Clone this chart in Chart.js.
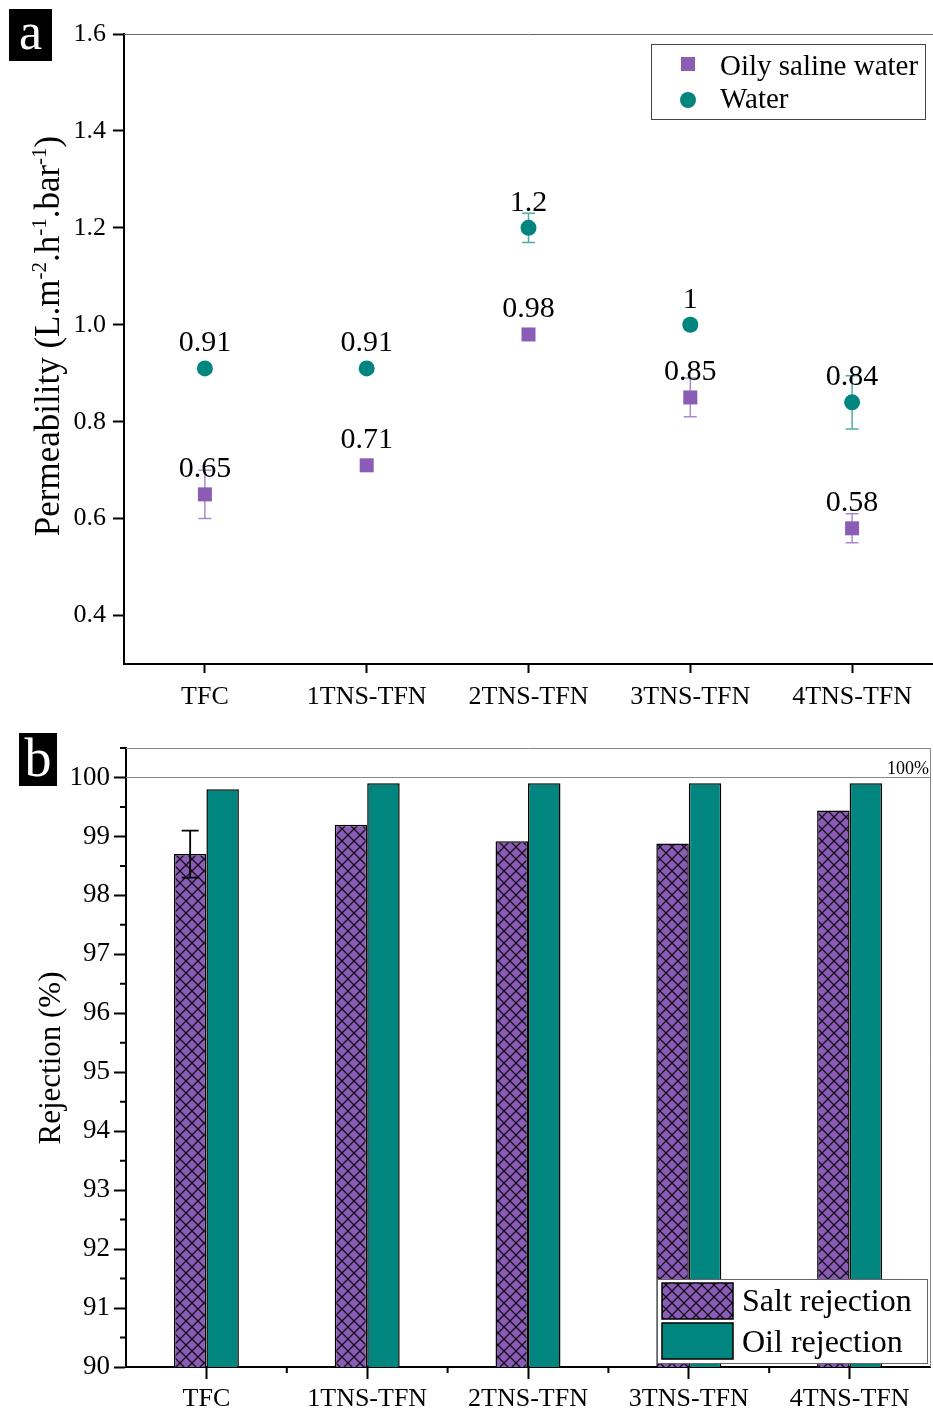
<!DOCTYPE html>
<html><head><meta charset="utf-8">
<script src="https://cdn.jsdelivr.net/npm/chart.js@4.4.1/dist/chart.umd.min.js"></script>
<style>
html,body{margin:0;padding:0;background:#fff;width:933px;height:1410px;overflow:hidden;}
#wa{position:absolute;left:0;top:0;width:933px;height:715px;}
#wb{position:absolute;left:0;top:715px;width:933px;height:695px;}
.tag{position:absolute;background:#000;color:#fff;font-family:"Liberation Serif",serif;text-align:center;}
</style></head><body>
<div id="wa"><canvas id="ca" width="933" height="715"></canvas></div>
<div id="wb"><canvas id="cb" width="933" height="695"></canvas></div>
<div class="tag" style="left:9px;top:9px;width:43px;height:52px;font-size:52px;line-height:46px;">a</div>
<div class="tag" style="left:19px;top:733px;width:38px;height:53px;font-size:54px;line-height:50px;">b</div>
<script>
const categories = ['TFC', '1TNS-TFN', '2TNS-TFN', '3TNS-TFN', '4TNS-TFN'];
const oilySalineWater = [0.65, 0.71, 0.98, 0.85, 0.58];
const oilySalineWaterErr = [0.05, 0, 0, 0.04, 0.03];
const waterPerm = [0.91, 0.91, 1.2, 1.0, 0.84];
const waterPermErr = [0, 0, 0.03, 0.01, 0.055];
const permeabilityTicks = [0.4, 0.6, 0.8, 1.0, 1.2, 1.4, 1.6];
const saltRejection = [98.7, 99.2, 98.92, 98.88, 99.44];
const saltRejectionErr = [0.4, 0, 0, 0, 0];
const oilRejection = [99.8, 99.9, 99.9, 99.9, 99.9];
const rejectionTicks = [90, 91, 92, 93, 94, 95, 96, 97, 98, 99, 100];

const SERIF = '"Liberation Serif", "Times New Roman", serif';
const PURPLE = '#8a5cb5';
const PURPLE_ERR = '#a88bcc';
const TEAL = '#00857f';
const TEAL_ERR = '#55aaa5';

function makeHatch() {
  const s = 12;
  const c = document.createElement('canvas');
  c.width = s; c.height = s;
  const g = c.getContext('2d');
  g.fillStyle = PURPLE; g.fillRect(0, 0, s, s);
  g.strokeStyle = '#140c1a'; g.lineWidth = 1.3;
  g.beginPath();
  g.moveTo(-1, -1); g.lineTo(s + 1, s + 1);
  g.moveTo(s + 1, -1); g.lineTo(-1, s + 1);
  g.stroke();
  return g.createPattern(c, 'repeat');
}
const HATCH = makeHatch();

function drawRotatedTitle(ctx, parts, baseX, centerY, mainSize, supSize, rise) {
  ctx.save();
  ctx.translate(baseX, centerY);
  ctx.rotate(-Math.PI / 2);
  ctx.fillStyle = '#000';
  ctx.textBaseline = 'alphabetic';
  ctx.textAlign = 'left';
  let total = 0;
  parts.forEach(p => { ctx.font = (p.sup ? supSize : mainSize) + 'px ' + SERIF; p.w = ctx.measureText(p.t).width; total += p.w; });
  let x = -total / 2;
  parts.forEach(p => {
    ctx.font = (p.sup ? supSize : mainSize) + 'px ' + SERIF;
    ctx.fillText(p.t, x, p.sup ? -rise : 0);
    x += p.w;
  });
  ctx.restore();
}

function errBar(ctx, x, yTop, yBot, half, color, lw) {
  ctx.save();
  ctx.strokeStyle = color; ctx.lineWidth = lw;
  ctx.beginPath();
  ctx.moveTo(x, yTop); ctx.lineTo(x, yBot);
  ctx.moveTo(x - half, yTop); ctx.lineTo(x + half, yTop);
  ctx.moveTo(x - half, yBot); ctx.lineTo(x + half, yBot);
  ctx.stroke();
  ctx.restore();
}

function noPad(s) { s.paddingLeft = 0; s.paddingRight = 0; s.paddingTop = 0; s.paddingBottom = 0; }

const plugA = {
  id: 'plugA',
  beforeDatasetsDraw(chart) {
    const ctx = chart.ctx, a = chart.chartArea, ys = chart.scales.y;
    ctx.save();
    ctx.strokeStyle = '#666'; ctx.lineWidth = 1;
    ctx.beginPath(); ctx.moveTo(a.left, a.top + 0.5); ctx.lineTo(chart.width, a.top + 0.5); ctx.stroke();
    ctx.restore();
    chart.data.datasets.forEach((ds, i) => {
      const meta = chart.getDatasetMeta(i);
      ds.errors.forEach((e, j) => {
        if (!e) return;
        const p = meta.data[j];
        errBar(ctx, p.x, ys.getPixelForValue(ds.data[j] + e), ys.getPixelForValue(ds.data[j] - e), 6.5, ds.errColor, 1.5);
      });
    });
  },
  afterDatasetsDraw(chart) {
    const ctx = chart.ctx;
    ctx.save();
    ctx.fillStyle = '#000';
    ctx.font = '30px ' + SERIF;
    ctx.textAlign = 'center'; ctx.textBaseline = 'alphabetic';
    chart.data.datasets.forEach((ds, i) => {
      const meta = chart.getDatasetMeta(i);
      ds.data.forEach((v, j) => {
        const p = meta.data[j];
        ctx.fillText(String(v), p.x, p.y - 17);
      });
    });
    ctx.restore();
    ctx.save();
    ctx.fillStyle = '#fff';
    ctx.fillRect(651, 44, 274, 75);
    ctx.strokeStyle = '#444'; ctx.lineWidth = 1;
    ctx.strokeRect(651.5, 44.5, 274, 75);
    const ds = chart.data.datasets;
    ctx.fillStyle = ds[0].backgroundColor;
    ctx.fillRect(681, 57, 14, 14);
    ctx.fillStyle = ds[1].backgroundColor;
    ctx.beginPath(); ctx.arc(688, 100, 8, 0, Math.PI * 2); ctx.fill();
    ctx.fillStyle = '#000';
    ctx.font = '29px ' + SERIF;
    ctx.textAlign = 'left'; ctx.textBaseline = 'alphabetic';
    ctx.fillText(ds[0].label, 720, 75);
    ctx.fillText(ds[1].label, 720, 108);
    ctx.restore();
    drawRotatedTitle(ctx, [
      { t: 'Permeability (L.m' }, { t: '-2', sup: true }, { t: '.h' }, { t: '-1', sup: true },
      { t: '.bar' }, { t: '-1', sup: true }, { t: ')' }
    ], 59, 336, 35, 21, 13);
  }
};

new Chart(document.getElementById('ca'), {
  type: 'line',
  data: {
    labels: categories,
    datasets: [
      { label: 'Oily saline water', data: oilySalineWater, errors: oilySalineWaterErr, errColor: PURPLE_ERR,
        showLine: false, pointStyle: 'rect', pointRadius: 9.9, pointHoverRadius: 9.9,
        backgroundColor: PURPLE, borderColor: PURPLE, pointBorderWidth: 0 },
      { label: 'Water', data: waterPerm, errors: waterPermErr, errColor: TEAL_ERR,
        showLine: false, pointStyle: 'circle', pointRadius: 8, pointHoverRadius: 8,
        backgroundColor: TEAL, borderColor: TEAL, pointBorderWidth: 0 }
    ]
  },
  options: {
    responsive: false, animation: false, devicePixelRatio: 1,
    layout: { autoPadding: false, padding: { top: 34, right: 0, left: 0, bottom: 0 } },
    plugins: { legend: { display: false }, tooltip: { enabled: false } },
    scales: {
      x: {
        type: 'category', offset: true,
        grid: { display: true, drawOnChartArea: false, drawTicks: true, tickLength: 9, tickColor: '#000', tickWidth: 2, offset: false },
        border: { display: true, color: '#000', width: 2 },
        ticks: { color: '#000', font: { family: SERIF, size: 26 }, padding: 9, maxRotation: 0, autoSkip: false },
        afterFit(s) { s.height = 51; noPad(s); }
      },
      y: {
        min: 0.3, max: 1.6,
        afterBuildTicks(s) { s.ticks = permeabilityTicks.map(v => ({ value: v })); },
        grid: { display: true, drawOnChartArea: false, drawTicks: true, tickLength: 11, tickColor: '#000', tickWidth: 2 },
        border: { display: true, color: '#000', width: 2 },
        ticks: { color: '#000', font: { family: SERIF, size: 26 }, padding: 7, callback: v => Number(v).toFixed(1) },
        afterFit(s) { s.width = 124; noPad(s); }
      }
    }
  },
  plugins: [plugA]
});

const plugB = {
  id: 'plugB',
  beforeDatasetsDraw(chart) {
    const ctx = chart.ctx, a = chart.chartArea, ys = chart.scales.y, xs = chart.scales.x;
    ctx.save();
    ctx.strokeStyle = '#888'; ctx.lineWidth = 1;
    ctx.beginPath();
    ctx.moveTo(a.left, a.top + 0.5); ctx.lineTo(a.right + 0.5, a.top + 0.5); ctx.lineTo(a.right + 0.5, a.bottom);
    const y100 = Math.round(ys.getPixelForValue(100)) + 0.5;
    ctx.moveTo(a.left, y100); ctx.lineTo(a.right, y100);
    ctx.stroke();
    ctx.strokeStyle = '#000'; ctx.lineWidth = 2;
    ctx.beginPath();
    for (let i = 0; i < rejectionTicks.length; i++) {
      const y = ys.getPixelForValue(rejectionTicks[i] + 0.5);
      ctx.moveTo(a.left - 6, y); ctx.lineTo(a.left, y);
    }
    for (let i = 0; i < categories.length - 1; i++) {
      const x = (xs.getPixelForTick(i) + xs.getPixelForTick(i + 1)) / 2;
      ctx.moveTo(x, a.bottom); ctx.lineTo(x, a.bottom + 6);
    }
    ctx.stroke();
    ctx.fillStyle = '#000';
    ctx.font = '18px ' + SERIF;
    ctx.textAlign = 'right'; ctx.textBaseline = 'alphabetic';
    ctx.fillText('100%', a.right - 1, y100 - 4);
    ctx.restore();
  },
  afterDatasetsDraw(chart) {
    const ctx = chart.ctx, ys = chart.scales.y;
    const ds0 = chart.data.datasets[0];
    const meta = chart.getDatasetMeta(0);
    ds0.errors.forEach((e, j) => {
      if (!e) return;
      const p = meta.data[j];
      errBar(ctx, p.x, ys.getPixelForValue(ds0.data[j] + e), ys.getPixelForValue(ds0.data[j] - e), 8.5, '#000', 1.8);
    });
    ctx.save();
    ctx.fillStyle = '#fff';
    ctx.fillRect(657, 564, 270, 84);
    ctx.strokeStyle = '#666'; ctx.lineWidth = 1;
    ctx.strokeRect(657.5, 564.5, 270, 84);
    const dss = chart.data.datasets;
    ctx.fillStyle = dss[0].backgroundColor; ctx.fillRect(662, 568, 71, 36);
    ctx.strokeStyle = '#000'; ctx.lineWidth = 1.5; ctx.strokeRect(662, 568, 71, 36);
    ctx.fillStyle = dss[1].backgroundColor; ctx.fillRect(662, 608, 71, 36);
    ctx.strokeRect(662, 608, 71, 36);
    ctx.fillStyle = '#000';
    ctx.font = '32px ' + SERIF;
    ctx.textAlign = 'left'; ctx.textBaseline = 'alphabetic';
    ctx.fillText(dss[0].label, 742, 596);
    ctx.fillText(dss[1].label, 742, 637);
    ctx.restore();
    drawRotatedTitle(ctx, [{ t: 'Rejection (%)' }], 60, 343, 31, 19, 12);
  }
};

new Chart(document.getElementById('cb'), {
  type: 'bar',
  data: {
    labels: categories,
    datasets: [
      { label: 'Salt rejection', data: saltRejection, errors: saltRejectionErr, backgroundColor: HATCH, borderColor: '#000', borderWidth: 1.5 },
      { label: 'Oil rejection', data: oilRejection, backgroundColor: TEAL, borderColor: '#000', borderWidth: 1.5 }
    ]
  },
  options: {
    responsive: false, animation: false, devicePixelRatio: 1,
    categoryPercentage: 0.404, barPercentage: 1.0,
    layout: { padding: { top: 33, right: 3, left: 0, bottom: 0 } },
    plugins: { legend: { display: false }, tooltip: { enabled: false } },
    scales: {
      x: {
        type: 'category', offset: true,
        grid: { display: true, drawOnChartArea: false, drawTicks: true, tickLength: 12, tickColor: '#000', tickWidth: 2, offset: false },
        border: { display: true, color: '#000', width: 2 },
        ticks: { color: '#000', font: { family: SERIF, size: 26 }, padding: 5, maxRotation: 0, autoSkip: false },
        afterFit(s) { s.height = 43; noPad(s); }
      },
      y: {
        min: 90, max: 100.5,
        afterBuildTicks(s) { s.ticks = rejectionTicks.map(v => ({ value: v })); },
        grid: { display: true, drawOnChartArea: false, drawTicks: true, tickLength: 12, tickColor: '#000', tickWidth: 2 },
        border: { display: true, color: '#000', width: 2 },
        ticks: { color: '#000', font: { family: SERIF, size: 27 }, padding: 4, callback: v => String(v) },
        afterFit(s) { s.width = 126; noPad(s); }
      }
    }
  },
  plugins: [plugB]
});
</script>
</body></html>
